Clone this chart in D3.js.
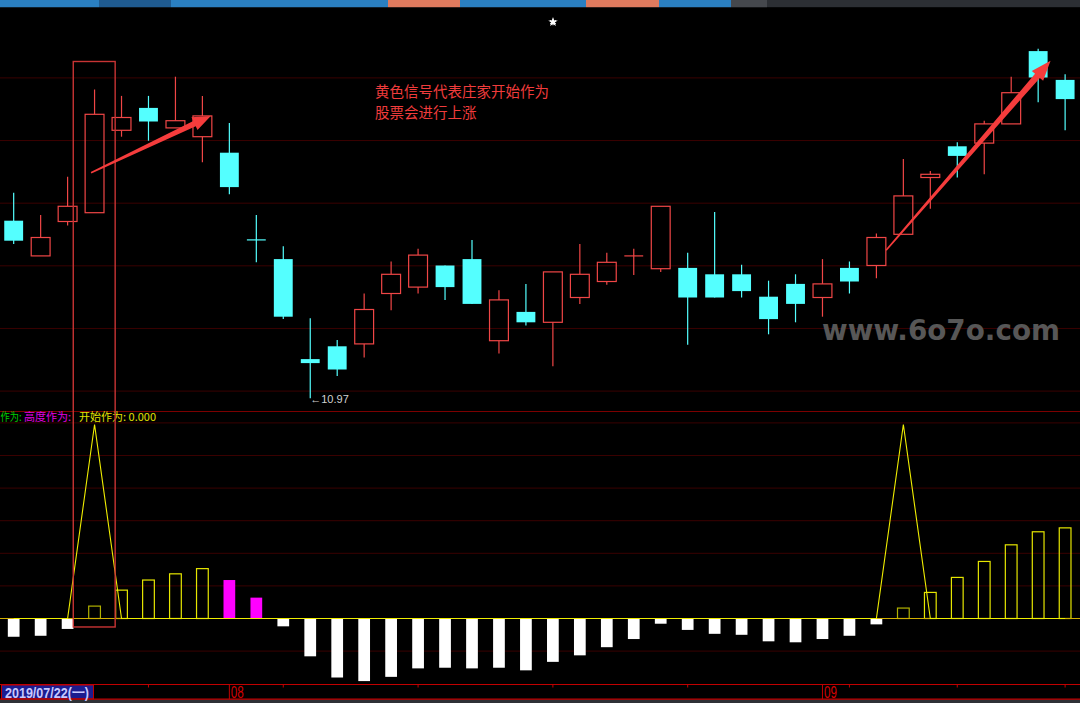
<!DOCTYPE html>
<html><head><meta charset="utf-8">
<script src="https://cdn.jsdelivr.net/npm/d3@7/dist/d3.min.js"></script>
<style>html,body{margin:0;padding:0;background:#000;overflow:hidden}</style>
</head><body>
<svg id="c" width="1080" height="703"></svg>
<script>
// ---------- data ----------
const dates = ["2019-07-22","2019-07-23","2019-07-24","2019-07-25","2019-07-26",
  "2019-07-29","2019-07-30","2019-07-31","2019-08-01","2019-08-02",
  "2019-08-05","2019-08-06","2019-08-07","2019-08-08","2019-08-09",
  "2019-08-12","2019-08-13","2019-08-14","2019-08-15","2019-08-16",
  "2019-08-19","2019-08-20","2019-08-21","2019-08-22","2019-08-23",
  "2019-08-26","2019-08-27","2019-08-28","2019-08-29","2019-08-30",
  "2019-09-02","2019-09-03","2019-09-04","2019-09-05","2019-09-06",
  "2019-09-09","2019-09-10","2019-09-11","2019-09-12","2019-09-16"];
const open  = [13.19,12.75,13.18,13.29,14.32,14.60,14.35,14.24,14.04,12.95,12.71,11.46,11.62,11.65,12.28,12.36,12.63,12.71,11.69,12.05,11.92,12.23,12.43,12.75,12.59,12.60,12.52,12.52,12.24,12.40,12.23,12.60,12.63,13.02,13.73,14.12,14.16,14.40,15.31,14.95];
const high  = [13.54,13.26,13.74,14.83,14.75,14.75,14.99,14.75,14.41,13.26,12.87,11.97,11.70,12.28,12.68,12.84,12.63,12.95,12.32,12.40,12.55,12.90,12.79,12.84,13.37,12.79,13.30,12.64,12.44,12.52,12.71,12.68,13.03,13.96,13.81,14.17,14.44,14.99,15.34,15.02];
const low   = [12.90,12.75,13.13,13.29,14.24,14.19,14.35,13.92,13.52,12.67,11.96,10.97,11.25,11.48,12.07,12.28,12.20,12.15,11.53,11.88,11.37,12.15,12.39,12.51,12.55,11.64,12.23,12.23,11.77,11.92,11.99,12.28,12.47,13.02,13.34,13.73,13.77,14.40,14.67,14.32];
const close = [12.94,12.98,13.37,14.52,14.48,14.43,14.44,14.50,13.61,12.95,11.99,11.41,11.33,12.08,12.52,12.76,12.36,12.15,12.20,11.92,12.55,12.52,12.67,12.75,13.37,12.23,12.23,12.31,11.96,12.15,12.40,12.43,12.98,13.50,13.77,14.00,14.40,14.79,14.98,14.71];
// lower indicator
const hist   = [-0.56,-0.53,-0.32,0.38,0.87,1.18,1.37,1.53,1.18,0.64,-0.24,-1.16,-1.81,-1.92,-1.79,-1.53,-1.51,-1.53,-1.51,-1.59,-1.33,-1.13,-0.88,-0.63,-0.16,-0.35,-0.47,-0.50,-0.70,-0.73,-0.63,-0.53,-0.18,0.32,0.80,1.26,1.75,2.26,2.66,2.78];
const signal = [0,0,0,5.95,0,0,0,0,0,0,0,0,0,0,0,0,0,0,0,0,0,0,0,0,0,0,0,0,0,0,0,0,0,5.95,0,0,0,0,0,0];
const magentaIdx = [8,9];
const priceGrid = [11.06,11.843,12.626,13.409,14.192,14.975];
const indGrid = [-1,1,2,3,4,5,6];
const tickDates = ["2019-07-29","2019-08-05","2019-08-12","2019-08-19","2019-08-26","2019-09-03","2019-09-09","2019-09-16"];
const legendLabels = ["作为:","高度作为:","开始作为:"];
const noteLines = ["黄色信号代表庄家开始作为","股票会进行上涨"];
const arrows = [ {from:[2.87,13.79], to:[7.31,14.50]}, {from:[32.36,12.82], to:[38.46,15.19]} ];
const highlight = {index:3, top:15.18, bottom:-0.26};
const tabEdges = [0,99,171,243,315,388,460,532,586,659,731,767];
const tabKinds = ["b","d","b","b","b","o","b","b","o","b","g"];
const weekDay = ["日","一","二","三","四","五","六"];

// ---------- setup ----------
const W=1080,H=703;
const svg=d3.select("#c");
svg.append("rect").attr("width",W).attr("height",H).attr("fill","#000");
const idx=d3.range(dates.length);
const x=d3.scaleBand().domain(idx).range([0.2,1078.6]).paddingInner(0).paddingOuter(0);
const step=x.step();
const cx=i=>x(i)+step/2;
const xf=v=>x(0)+step/2+v*step; // fractional index
const y=d3.scaleLinear().domain([10.97,15.345]).range([398.3,48.3]);
const yi=d3.scaleLinear().domain([0,6]).range([618.5,422.9]);

// top tab bar
const tabColor={b:"#2a7fc1",d:"#1f5b91",o:"#df7a5e",g:"#45484d"};
svg.append("rect").attr("x",0).attr("y",0).attr("width",W).attr("height",7.2).attr("fill","#2c2f34");
svg.selectAll("rect.tab").data(tabKinds).join("rect").attr("class","tab")
  .attr("x",(d,i)=>tabEdges[i]).attr("y",0)
  .attr("width",(d,i)=>tabEdges[i+1]-tabEdges[i]).attr("height",7.2)
  .attr("fill",d=>tabColor[d]);
svg.append("path").attr("transform","translate(553,22)")
  .attr("d",d3.symbol(d3.symbolStar,28)()).attr("fill","#fff");
svg.append("path").attr("transform","translate(553,22)")
  .attr("d",d3.symbol(d3.symbolAsterisk,30)()).attr("fill","none").attr("stroke","#fff").attr("stroke-width",1);

// grids
svg.selectAll("line.pg").data(priceGrid).join("line").attr("class","pg")
  .attr("x1",0).attr("x2",W).attr("y1",d=>y(d)).attr("y2",d=>y(d))
  .attr("stroke","#3a0000").attr("stroke-width",1);
svg.selectAll("line.ig").data(indGrid).join("line").attr("class","ig")
  .attr("x1",0).attr("x2",W).attr("y1",d=>yi(d)).attr("y2",d=>yi(d))
  .attr("stroke","#3a0000").attr("stroke-width",1);
// pane separator
svg.append("line").attr("x1",0).attr("x2",W).attr("y1",411.5).attr("y2",411.5)
  .attr("stroke","#7c0000").attr("stroke-width",1.2);

// watermark
svg.append("text").attr("x",822).attr("y",340).text("www.6o7o.com")
  .attr("font-family","DejaVu Sans, Verdana, sans-serif").attr("font-weight","bold")
  .attr("font-size",28).attr("fill","#575757")
  .attr("textLength",238).attr("lengthAdjust","spacingAndGlyphs");

// candles
const red="#f04646", cyan="#54ffff";
const bw=step*0.7;
const up=i=> close[i]>open[i] || (close[i]===open[i] && (i===0 || close[i]>=close[i-1]));
const cg=svg.append("g");
idx.forEach(i=>{
  const c=cx(i), isUp=up(i);
  const col=isUp?red:cyan;
  const top=y(Math.max(open[i],close[i])), bot=y(Math.min(open[i],close[i]));
  if(isUp){
    if(high[i]>Math.max(open[i],close[i])) cg.append("line").attr("x1",c).attr("x2",c).attr("y1",y(high[i])).attr("y2",top).attr("stroke",col).attr("stroke-width",1.2);
    if(low[i]<Math.min(open[i],close[i])) cg.append("line").attr("x1",c).attr("x2",c).attr("y1",bot).attr("y2",y(low[i])).attr("stroke",col).attr("stroke-width",1.2);
    if(bot-top<1) cg.append("line").attr("x1",c-bw/2).attr("x2",c+bw/2).attr("y1",top).attr("y2",top).attr("stroke",col).attr("stroke-width",1.2);
    else cg.append("rect").attr("x",c-bw/2).attr("y",top).attr("width",bw).attr("height",bot-top).attr("fill","none").attr("stroke",col).attr("stroke-width",1.2);
  } else {
    cg.append("line").attr("x1",c).attr("x2",c).attr("y1",y(high[i])).attr("y2",y(low[i])).attr("stroke",col).attr("stroke-width",1.2);
    if(bot-top<1) cg.append("line").attr("x1",c-bw/2).attr("x2",c+bw/2).attr("y1",top).attr("y2",top).attr("stroke",col).attr("stroke-width",1.2);
    else cg.append("rect").attr("x",c-bw/2).attr("y",top).attr("width",bw).attr("height",bot-top).attr("fill",col);
  }
});
// min low label
const minI=d3.minIndex(low);
svg.append("text").attr("x",cx(minI)).attr("y",y(low[minI])+5).text("←"+low[minI].toFixed(2))
  .attr("font-family","Liberation Sans, Arial, sans-serif").attr("font-size",11).attr("fill","#d0d0d0");

// indicator bars
const hb=step*0.435;
const sigIdx=idx.filter(i=>signal[i]>0);
const ig=svg.append("g");
// zero line
svg.append("line").attr("x1",0).attr("x2",W).attr("y1",yi(0)).attr("y2",yi(0)).attr("stroke","#d2b000").attr("stroke-width",1.2);
idx.forEach(i=>{
  const c=cx(i), v=hist[i];
  const y0=yi(0), y1=yi(v);
  if(v<0){
    ig.append("rect").attr("x",c-hb/2).attr("y",y0).attr("width",hb).attr("height",y1-y0).attr("fill","#fff");
  } else if(magentaIdx.includes(i)){
    ig.append("rect").attr("x",c-hb/2).attr("y",y1).attr("width",hb).attr("height",y0-y1).attr("fill","#ff00ff");
  } else {
    ig.append("rect").attr("x",c-hb/2).attr("y",y1).attr("width",hb).attr("height",y0-y1)
      .attr("fill","none").attr("stroke",sigIdx.includes(i)?"#b0b000":"#e6e600").attr("stroke-width",1.2);
  }
});
// signal line
svg.append("path").datum(signal)
  .attr("d",d3.line().x((d,i)=>cx(i)).y(d=>yi(d)))
  .attr("fill","none").attr("stroke","#f0ee00").attr("stroke-width",1.1);

// legend
const lf="Noto Sans CJK SC, sans-serif";
const leg=svg.append("text").attr("y",421).attr("font-family",lf).attr("font-size",11);
leg.append("tspan").attr("x",0.5).attr("fill","#00d000").attr("textLength",21).attr("lengthAdjust","spacingAndGlyphs").text(legendLabels[0]);
leg.append("tspan").attr("x",24).attr("fill","#e000e0").text(legendLabels[1]);
leg.append("tspan").attr("x",79).attr("fill","#e0e000").text(legendLabels[2]+" "+signal[signal.length-1].toFixed(3));

// highlight rectangle
const hc=cx(highlight.index);
svg.append("rect").attr("x",hc-21.3).attr("y",y(highlight.top))
  .attr("width",41.9).attr("height",yi(highlight.bottom)-y(highlight.top))
  .attr("fill","none").attr("stroke","#c83434").attr("stroke-width",1.4);

// note text
svg.selectAll("text.note").data(noteLines).join("text").attr("class","note")
  .attr("x",375).attr("y",(d,i)=>96.5+i*21).text(d=>d)
  .attr("font-family",lf).attr("font-size",14.5).attr("fill","#f03c3c");

// arrows
function arrowPts(x0,y0,x1,y1,w0,w1,hl,hw){
  const dx=x1-x0,dy=y1-y0,L=Math.hypot(dx,dy),ux=dx/L,uy=dy/L,nx=-uy,ny=ux;
  const bx=x1-ux*hl,by=y1-uy*hl;
  return [[x0+nx*w0,y0+ny*w0],[bx+nx*w1,by+ny*w1],[bx+nx*hw,by+ny*hw],[x1,y1],
          [bx-nx*hw,by-ny*hw],[bx-nx*w1,by-ny*w1],[x0-nx*w0,y0-ny*w0]];
}
arrows.forEach((a,k)=>{
  const p=arrowPts(xf(a.from[0]),y(a.from[1]),xf(a.to[0]),y(a.to[1]),0.8,k?3.2:2.8,k?20:18,k?7.5:7);
  svg.append("polygon").attr("points",p.map(q=>q.join(",")).join(" ")).attr("fill","#f53c3c");
});

// bottom axis
const axY=684.5, axB=699.2;
svg.append("rect").attr("x",0).attr("y",axB).attr("width",W).attr("height",H-axB).attr("fill","#2e3136");
svg.append("line").attr("x1",0).attr("x2",W).attr("y1",axY).attr("y2",axY).attr("stroke","#c00000").attr("stroke-width",1.2);
svg.append("line").attr("x1",0).attr("x2",W).attr("y1",axB).attr("y2",axB).attr("stroke","#c00000").attr("stroke-width",1.2);
svg.selectAll("line.tk").data(tickDates).join("line").attr("class","tk")
  .attr("x1",d=>cx(dates.indexOf(d))).attr("x2",d=>cx(dates.indexOf(d)))
  .attr("y1",axY).attr("y2",axY+3).attr("stroke","#c00000");
const monthIdx=idx.filter(i=>i>0 && dates[i].slice(5,7)!==dates[i-1].slice(5,7));
monthIdx.forEach(i=>{
  svg.append("line").attr("x1",cx(i)).attr("x2",cx(i)).attr("y1",axY).attr("y2",axB).attr("stroke","#c00000");
  svg.append("text").attr("x",cx(i)+1.5).attr("y",697.8).text(dates[i].slice(5,7))
    .attr("font-family","Liberation Sans Narrow, Liberation Sans, sans-serif").attr("font-size",16)
    .attr("fill","#d40000").attr("textLength",13).attr("lengthAdjust","spacingAndGlyphs");
});
// first date box
const d0=new Date(dates[0]+"T00:00:00");
svg.append("rect").attr("x",1.5).attr("y",axY+0.5).attr("width",92).attr("height",axB-axY-1)
  .attr("fill","#1c1c8e").attr("stroke","#c00000").attr("stroke-width",1);
svg.append("text").attr("x",5).attr("y",697.5)
  .text(dates[0].replace(/-/g,"/")+"("+weekDay[d0.getDay()]+")")
  .attr("font-family","Liberation Sans Narrow, Liberation Sans, sans-serif").attr("font-weight","bold")
  .attr("font-size",14.5).attr("fill","#c8c8ff").attr("textLength",84).attr("lengthAdjust","spacingAndGlyphs");
</script>
</body></html>
